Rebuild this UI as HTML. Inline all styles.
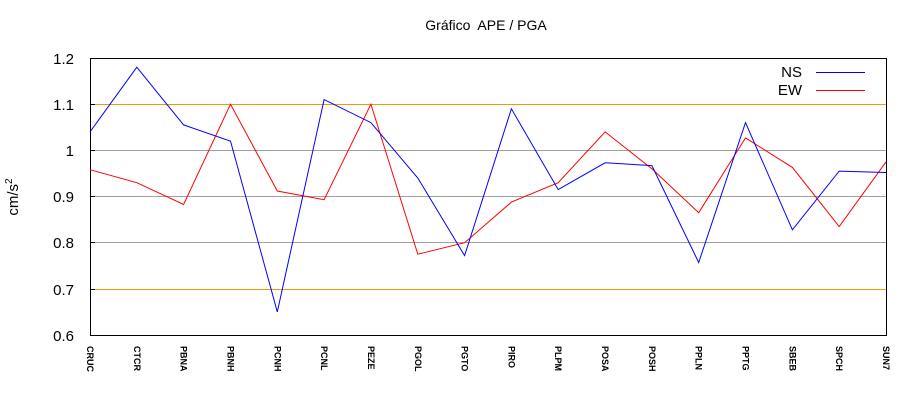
<!DOCTYPE html>
<html><head><meta charset="utf-8"><style>
html,body{margin:0;padding:0;background:#fff;}
svg{display:block;font-family:"Liberation Sans",sans-serif;}
</style></head><body>
<svg width="920" height="400" xmlns="http://www.w3.org/2000/svg">
<rect width="920" height="400" fill="#fff"/>
<text x="486" y="30" font-size="14" text-anchor="middle">Gráfico&#160; APE / PGA</text>
<text transform="translate(18,197) rotate(-90)" font-size="15" text-anchor="middle">cm/s<tspan dy="-6" font-size="10">2</tspan></text>
<line x1="90" x2="886" y1="104.5" y2="104.5" stroke="#e8a000"/>
<line x1="90" x2="886" y1="150.5" y2="150.5" stroke="#a0a0a0"/>
<line x1="90" x2="886" y1="196.5" y2="196.5" stroke="#a0a0a0"/>
<line x1="90" x2="886" y1="242.5" y2="242.5" stroke="#a0a0a0"/>
<line x1="90" x2="886" y1="289.5" y2="289.5" stroke="#e8a000"/>
<g stroke="#000">
<line x1="90" x2="95" y1="104.5" y2="104.5"/>
<line x1="90" x2="95" y1="150.5" y2="150.5"/>
<line x1="90" x2="95" y1="196.5" y2="196.5"/>
<line x1="90" x2="95" y1="242.5" y2="242.5"/>
<line x1="90" x2="95" y1="289.5" y2="289.5"/>
</g>
<g font-size="15" text-anchor="end">
<text x="74" y="64">1.2</text>
<text x="74" y="110">1.1</text>
<text x="74" y="156">1</text>
<text x="74" y="202">0.9</text>
<text x="74" y="248">0.8</text>
<text x="74" y="295">0.7</text>
<text x="74" y="341">0.6</text>
</g>
<rect x="90.5" y="58.5" width="796" height="277" fill="none" stroke="#000" stroke-width="1"/>
<g font-size="9" font-weight="bold">
<text transform="translate(87,346) rotate(90)">CRUC</text>
<text transform="translate(133.8,346) rotate(90)">CTCR</text>
<text transform="translate(180.6,346) rotate(90)">PBNA</text>
<text transform="translate(227.5,346) rotate(90)">PBNH</text>
<text transform="translate(274.3,346) rotate(90)">PCNH</text>
<text transform="translate(321.1,346) rotate(90)">PCNL</text>
<text transform="translate(367.9,346) rotate(90)">PEZE</text>
<text transform="translate(414.8,346) rotate(90)">PGOL</text>
<text transform="translate(461.6,346) rotate(90)">PGTO</text>
<text transform="translate(508.4,346) rotate(90)">PIRO</text>
<text transform="translate(555.2,346) rotate(90)">PLPM</text>
<text transform="translate(602.1,346) rotate(90)">POSA</text>
<text transform="translate(648.9,346) rotate(90)">POSH</text>
<text transform="translate(695.7,346) rotate(90)">PPLN</text>
<text transform="translate(742.5,346) rotate(90)">PPTG</text>
<text transform="translate(789.4,346) rotate(90)">SBEB</text>
<text transform="translate(836.2,346) rotate(90)">SPCH</text>
<text transform="translate(883,346) rotate(90)">SUN7</text>
</g>
<polyline fill="none" stroke="#ff0000" points="90,169.7 136.8,182.7 183.6,204.4 230.5,104.2 277.3,191 324.1,199.7 370.9,104.2 417.8,254.2 464.6,242.7 511.4,202.1 558.2,182.7 605.1,131.9 651.9,168.8 698.7,212.7 745.5,137.9 792.4,167.4 839.2,226.5 886,161.9"/>
<polyline fill="none" stroke="#0000ff" points="90,131.9 136.8,67.2 183.6,124.9 230.5,141.1 277.3,311.9 324.1,99.6 370.9,122.6 417.8,178 464.6,255.6 511.4,108.8 558.2,189.6 605.1,162.8 651.9,165.6 698.7,262.5 745.5,122.6 792.4,229.8 839.2,171.1 886,172.5"/>
<g font-size="15" text-anchor="end">
<text x="802" y="77">NS</text>
<text x="802" y="95">EW</text>
</g>
<line x1="816" y1="72.5" x2="865" y2="72.5" stroke="#0000ff"/>
<line x1="816" y1="90.5" x2="865" y2="90.5" stroke="#ff0000"/>
</svg>
</body></html>
